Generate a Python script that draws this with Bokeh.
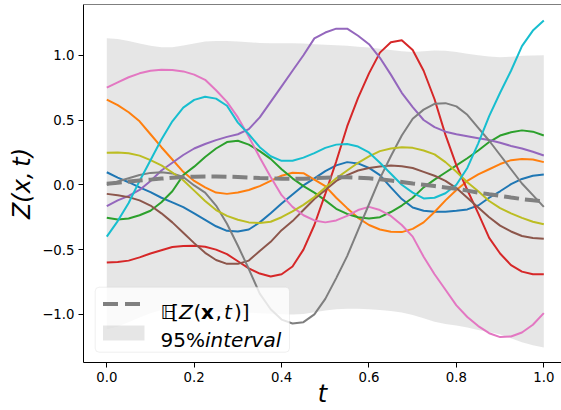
from bokeh.plotting import figure
from bokeh.models import Range1d, FixedTicker, Label, BoxAnnotation, Span
from bokeh.embed import file_html
from bokeh.resources import INLINE

# time grid
t = [0.000, 0.025, 0.050, 0.075, 0.100, 0.125, 0.150, 0.175, 0.200, 0.225,
     0.250, 0.275, 0.300, 0.325, 0.350, 0.375, 0.400, 0.425, 0.450, 0.475,
     0.500, 0.525, 0.550, 0.575, 0.600, 0.625, 0.650, 0.675, 0.700, 0.725,
     0.750, 0.775, 0.800, 0.825, 0.850, 0.875, 0.900, 0.925, 0.950, 0.975, 1.000]

# posterior mean and 95% interval
mean = [0.008, 0.016, 0.025, 0.033, 0.040, 0.048, 0.055, 0.060, 0.063, 0.065,
        0.065, 0.063, 0.060, 0.056, 0.052, 0.049, 0.047, 0.046, 0.047, 0.051,
        0.055, 0.058, 0.058, 0.055, 0.050, 0.042, 0.033, 0.022, 0.010, 0.000,
        -0.010, -0.020, -0.030, -0.045, -0.060, -0.073, -0.085, -0.098, -0.110, -0.120, -0.128]
upper = [1.130, 1.125, 1.110, 1.090, 1.072, 1.062, 1.062, 1.075, 1.090, 1.105,
         1.110, 1.110, 1.105, 1.100, 1.095, 1.093, 1.093, 1.092, 1.090, 1.085,
         1.080, 1.076, 1.072, 1.066, 1.060, 1.050, 1.040, 1.030, 1.025, 1.030,
         1.036, 1.035, 1.025, 1.012, 1.000, 0.990, 0.985, 0.988, 0.995, 0.998, 1.000]
lower = [-1.114, -1.093, -1.060, -1.024, -0.992, -0.966, -0.952, -0.955, -0.964, -0.975,
         -0.980, -0.984, -0.985, -0.988, -0.991, -0.995, -0.999, -1.000, -0.996, -0.983,
         -0.970, -0.960, -0.956, -0.956, -0.960, -0.966, -0.974, -0.986, -1.005, -1.030,
         -1.056, -1.075, -1.085, -1.102, -1.120, -1.136, -1.155, -1.184, -1.215, -1.238, -1.256]

# sample paths
s_blue = [0.097, 0.055, 0.020, -0.020, -0.057, -0.100, -0.135, -0.172, -0.220, -0.270,
          -0.320, -0.355, -0.360, -0.345, -0.290, -0.220, -0.145, -0.075, -0.005, 0.050,
          0.105, 0.150, 0.175, 0.165, 0.130, 0.075, -0.020, -0.110, -0.175, -0.200,
          -0.207, -0.207, -0.200, -0.190, -0.160, -0.100, -0.050, 0.005, 0.045, 0.070, 0.080]
s_orange = [0.658, 0.615, 0.560, 0.490, 0.390, 0.290, 0.195, 0.100, 0.030, -0.020,
            -0.060, -0.070, -0.060, -0.040, -0.010, 0.030, 0.070, 0.093, 0.090, 0.040,
            -0.010, -0.100, -0.180, -0.255, -0.310, -0.345, -0.362, -0.365, -0.340, -0.290,
            -0.210, -0.120, -0.040, 0.030, 0.080, 0.120, 0.160, 0.190, 0.200, 0.195, 0.175]
s_green = [-0.255, -0.268, -0.260, -0.235, -0.200, -0.135, -0.050, 0.075, 0.140, 0.215,
           0.280, 0.330, 0.340, 0.310, 0.260, 0.200, 0.120, 0.050, -0.010, -0.060,
           -0.120, -0.185, -0.225, -0.250, -0.260, -0.250, -0.210, -0.160, -0.100, -0.020,
           0.040, 0.095, 0.150, 0.205, 0.265, 0.330, 0.380, 0.405, 0.420, 0.410, 0.380]
s_red = [-0.600, -0.595, -0.585, -0.560, -0.530, -0.505, -0.480, -0.472, -0.470, -0.478,
         -0.500, -0.535, -0.590, -0.645, -0.685, -0.708, -0.690, -0.630, -0.500, -0.310,
         -0.070, 0.180, 0.450, 0.670, 0.860, 1.020, 1.100, 1.115, 1.040, 0.880,
         0.660, 0.385, 0.150, -0.040, -0.220, -0.410, -0.530, -0.620, -0.670, -0.690, -0.690]
s_purple = [-0.165, -0.120, -0.085, -0.040, 0.030, 0.110, 0.170, 0.230, 0.280, 0.315,
            0.345, 0.370, 0.390, 0.430, 0.520, 0.640, 0.760, 0.880, 1.000, 1.130,
            1.175, 1.205, 1.205, 1.150, 1.085, 0.980, 0.850, 0.710, 0.600, 0.500,
            0.445, 0.410, 0.390, 0.375, 0.360, 0.345, 0.325, 0.300, 0.280, 0.255, 0.226]
s_brown = [-0.070, -0.080, -0.095, -0.120, -0.160, -0.220, -0.290, -0.370, -0.450, -0.525,
           -0.580, -0.610, -0.610, -0.585, -0.510, -0.440, -0.350, -0.280, -0.195, -0.110,
           -0.040, 0.030, 0.075, 0.110, 0.130, 0.142, 0.148, 0.143, 0.130, 0.100,
           0.070, 0.030, -0.025, -0.100, -0.175, -0.250, -0.315, -0.360, -0.395, -0.410, -0.417]
s_pink = [0.750, 0.790, 0.830, 0.860, 0.880, 0.887, 0.885, 0.875, 0.850, 0.810,
          0.730, 0.640, 0.520, 0.370, 0.210, 0.060, -0.080, -0.170, -0.235, -0.275,
          -0.290, -0.275, -0.240, -0.195, -0.170, -0.195, -0.240, -0.310, -0.400, -0.555,
          -0.690, -0.810, -0.930, -1.020, -1.090, -1.145, -1.175, -1.170, -1.140, -1.080, -0.990]
s_gray = [0.000, 0.025, 0.050, 0.075, 0.092, 0.097, 0.088, 0.060, -0.005, -0.060,
          -0.160, -0.300, -0.470, -0.650, -0.840, -0.960, -1.040, -1.070, -1.060, -1.000,
          -0.880, -0.720, -0.550, -0.350, -0.150, 0.050, 0.220, 0.380, 0.510, 0.580,
          0.625, 0.630, 0.605, 0.540, 0.440, 0.340, 0.230, 0.120, 0.010, -0.080, -0.170]
s_olive = [0.247, 0.250, 0.243, 0.225, 0.190, 0.150, 0.095, 0.035, -0.045, -0.125,
           -0.195, -0.240, -0.270, -0.290, -0.295, -0.285, -0.250, -0.205, -0.155, -0.095,
           -0.020, 0.050, 0.110, 0.170, 0.220, 0.260, 0.280, 0.290, 0.285, 0.265,
           0.235, 0.175, 0.100, 0.020, -0.050, -0.125, -0.180, -0.220, -0.255, -0.285, -0.305]
s_cyan = [-0.400, -0.280, -0.140, 0.030, 0.190, 0.350, 0.490, 0.595, 0.655, 0.680,
          0.665, 0.610, 0.480, 0.390, 0.290, 0.220, 0.185, 0.185, 0.210, 0.245,
          0.285, 0.310, 0.315, 0.295, 0.250, 0.170, 0.085, 0.000, -0.060, -0.105,
          -0.100, -0.065, 0.000, 0.130, 0.320, 0.530, 0.710, 0.880, 1.070, 1.190, 1.268]

samples = [s_blue, s_orange, s_green, s_red, s_purple,
           s_brown, s_pink, s_gray, s_olive, s_cyan]
colors = ["#1f77b4", "#ff7f0e", "#2ca02c", "#d62728", "#9467bd",
          "#8c564b", "#e377c2", "#7f7f7f", "#bcbd22", "#17becf"]

x_ticks = [0.0, 0.2, 0.4, 0.6, 0.8, 1.0]
x_tick_labels = ["0.0", "0.2", "0.4", "0.6", "0.8", "1.0"]
y_ticks = [-1.0, -0.5, 0.0, 0.5, 1.0]
y_tick_labels = ["\u22121.0", "\u22120.5", "0.0", "0.5", "1.0"]

W, H = 561, 410
FL, FR, FT, FB = 83, 561, 4, 362          # frame edges in canvas pixels
X0, X1 = -0.0533, 1.0405
Y0, Y1 = -1.3711, 1.3912

FONT = "DejaVu Sans"

p = figure(width=W, height=H, output_backend="svg", toolbar_location=None,
           x_range=Range1d(X0, X1), y_range=Range1d(Y0, Y1),
           min_border_left=FL, min_border_right=W - FR,
           min_border_top=FT, min_border_bottom=H - FB)
p.outline_line_color = None
p.background_fill_color = "white"
p.border_fill_color = "white"
p.xgrid.visible = False
p.ygrid.visible = False

for ax, ticks, labels in ((p.xaxis[0], x_ticks, x_tick_labels),
                          (p.yaxis[0], y_ticks, y_tick_labels)):
    ax.ticker = FixedTicker(ticks=ticks)
    ax.major_label_overrides = dict(zip(ticks, labels))
    ax.major_label_text_font = FONT
    ax.major_label_text_font_size = "13.3px"
    ax.major_label_text_color = "black"
    ax.axis_line_color = "black"
    ax.axis_line_width = 1
    ax.major_tick_line_color = "black"
    ax.major_tick_in = 0
    ax.major_tick_out = 5
    ax.minor_tick_line_color = None
    ax.major_label_standoff = 4
    ax.axis_label_text_font = FONT
    ax.axis_label_text_font_size = "24px"
    ax.axis_label_text_font_style = "italic"
    ax.axis_label_text_color = "black"

p.xaxis[0].axis_label = "t"
p.xaxis[0].axis_label_standoff = -5
p.yaxis[0].axis_label = "Z(x,\u2009t)"
p.yaxis[0].axis_label_standoff = 3

# top spine
p.add_layout(Span(location=Y1, dimension="width", line_color="black", line_width=1))

# 95% interval band
p.varea(x=t, y1=lower, y2=upper, fill_color="gray", fill_alpha=0.2)

# sample paths
for ys, c in zip(samples, colors):
    p.line(t, ys, line_color=c, line_width=2)

# posterior mean
p.line(t, mean, line_color="gray", line_width=4, line_dash="15 6")


def dx(px):
    return X0 + (px - FL) / (FR - FL) * (X1 - X0)


def dy(py):
    return Y1 - (py - FT) / (FB - FT) * (Y1 - Y0)


def sx(px):
    return px - FL


def sy(py):
    return FB - py


# legend frame
p.add_layout(BoxAnnotation(left=sx(94.7), right=sx(289), top=sy(286.7), bottom=sy(351.7),
                           left_units="screen", right_units="screen",
                           top_units="screen", bottom_units="screen",
                           fill_color="white", fill_alpha=0.8,
                           line_color="#cccccc", line_width=1, border_radius=4))
# legend handles
p.add_layout(BoxAnnotation(left=sx(102.5), right=sx(144), top=sy(325), bottom=sy(340),
                           left_units="screen", right_units="screen",
                           top_units="screen", bottom_units="screen",
                           fill_color="gray", fill_alpha=0.2, line_color=None))
handle = p.segment(x0=[dx(102.5)], y0=[dy(303.5)], x1=[dx(144)], y1=[dy(303.5)],
                   line_color="gray", line_width=4, line_dash="15 7")
handle.level = "overlay"


def text_piece(x, y, s, style="normal", size="20px"):
    p.add_layout(Label(x=x, y=y, x_units="screen", y_units="screen", text=s,
                       text_font=FONT, text_font_size=size, text_font_style=style,
                       text_color="black", text_baseline="alphabetic",
                       text_align="left"))


# legend labels
base1 = sy(311.7)
for x, s, style in ((160, "\U0001D53C", "normal"), (170.5, "[", "normal"),
                    (178.5, "Z", "italic"), (193, "(", "normal"), (200.5, "x", "bold"),
                    (215, ",", "normal"), (223.5, "t", "italic"), (233.5, ")]", "normal")):
    text_piece(sx(x), base1, s, style)
base2 = sy(339.3)
text_piece(sx(160), base2, "95%", "normal")
text_piece(sx(204.5), base2, "interval", "italic")

open("out.html", "w").write(file_html(p, INLINE))
